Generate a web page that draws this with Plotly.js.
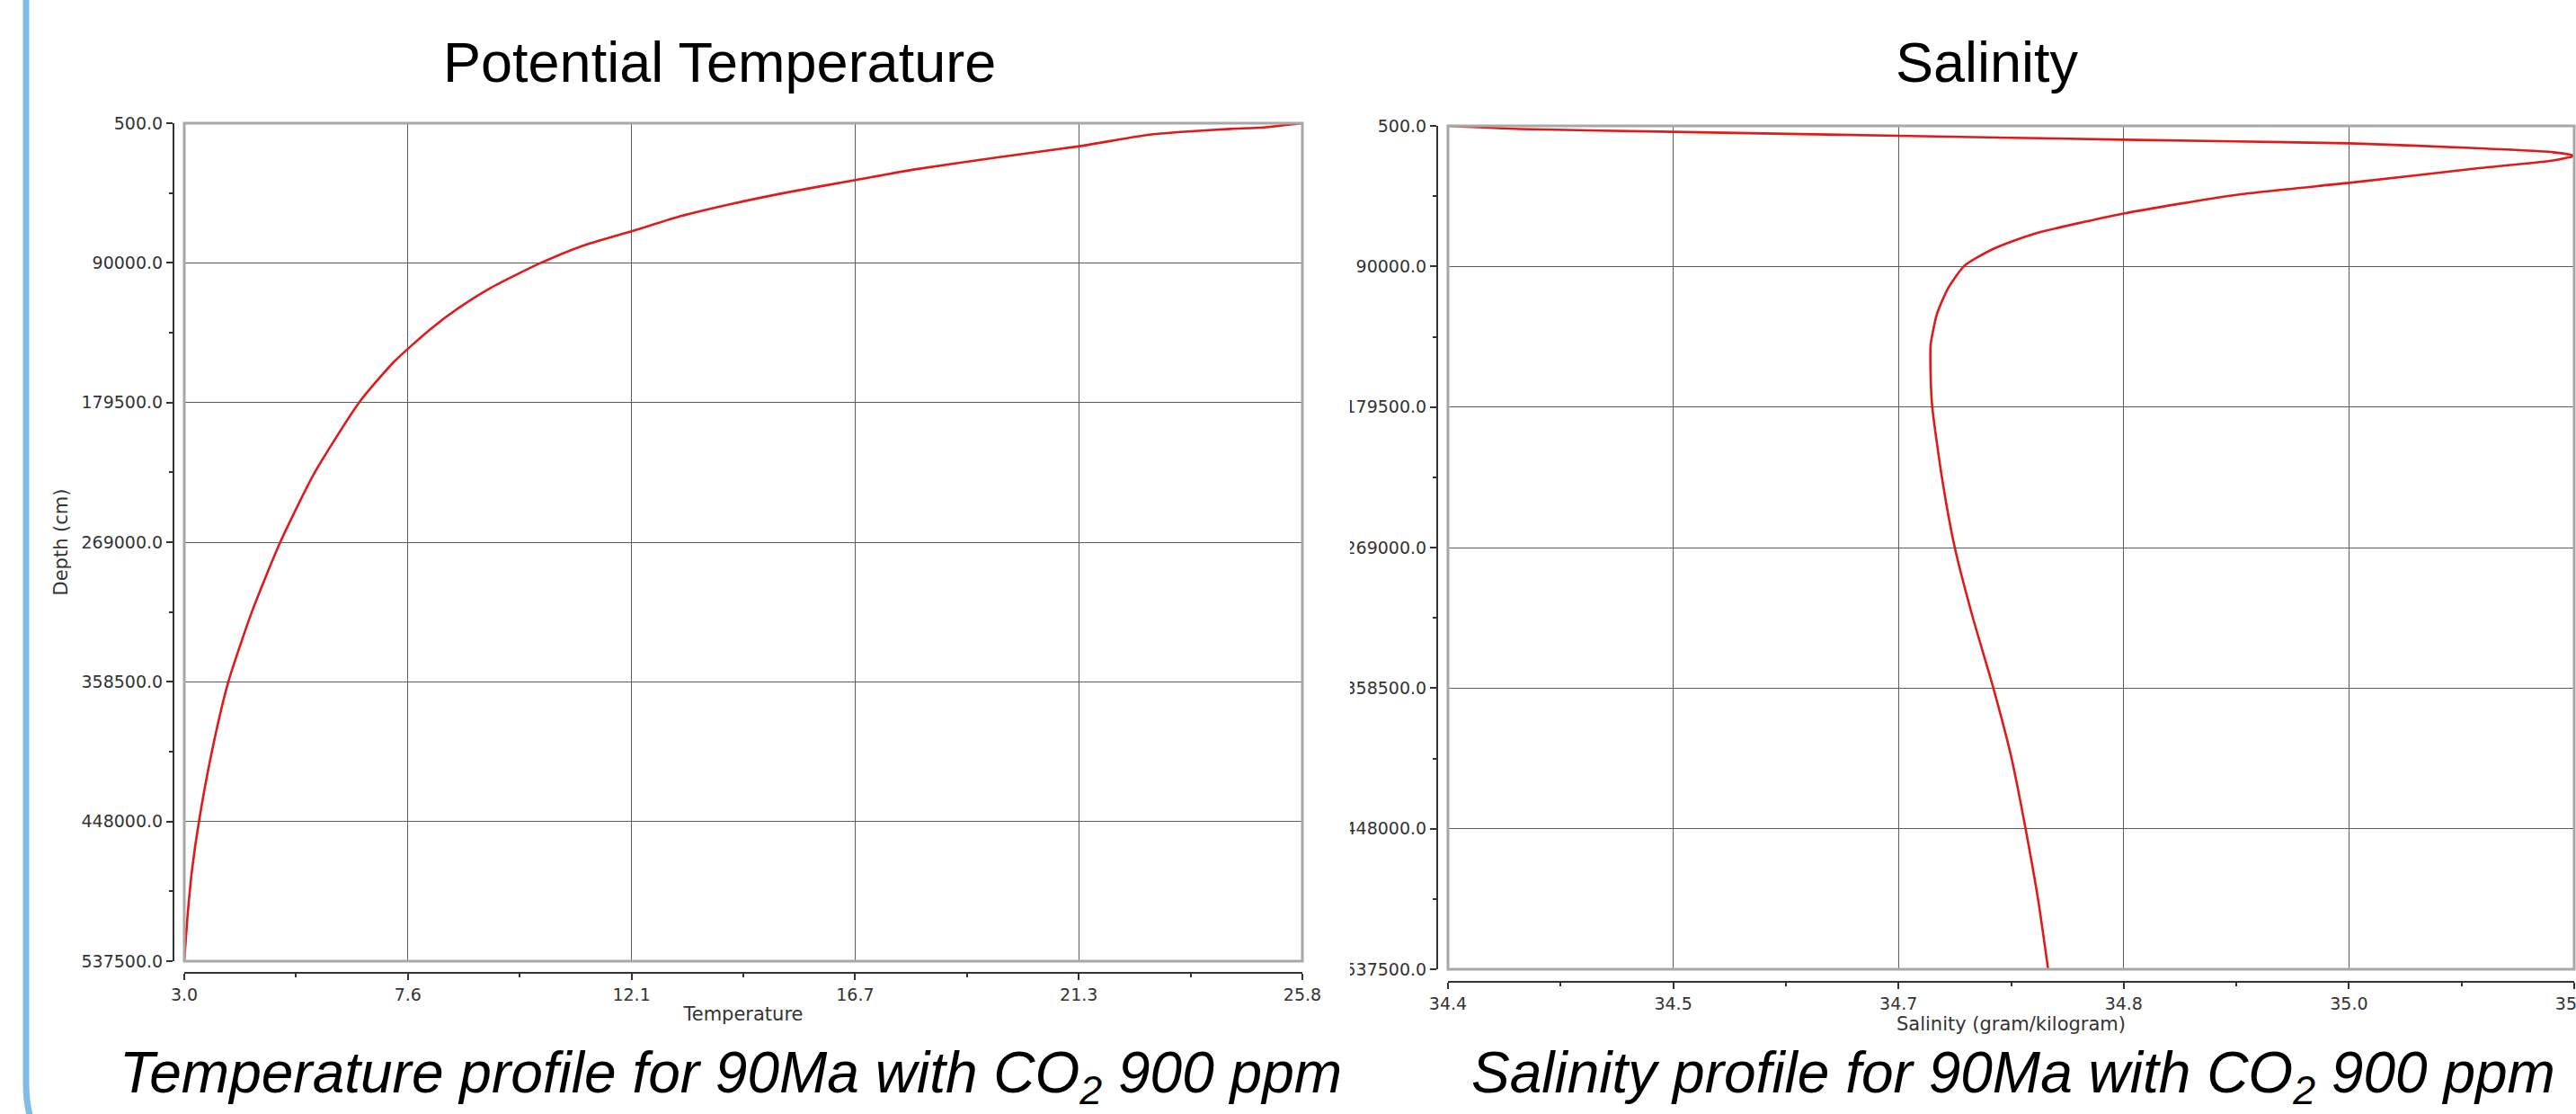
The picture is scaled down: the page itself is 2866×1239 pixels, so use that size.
<!DOCTYPE html>
<html>
<head>
<meta charset="utf-8">
<script src="https://cdn.plot.ly/plotly-3.0.1.min.js"></script>
<style>html,body{margin:0;padding:0;background:#fff;} #chart{width:2866px;height:1239px;}</style>
</head>
<body>
<div id="chart"></div>
<script>
// ---------- data ----------
const tempDepth = [500, 3200, 4150, 6100, 8000, 15100, 22400, 30100, 36800, 44500, 52200, 59900, 69500, 79100, 90200, 106000, 119000, 132400, 153200, 179500, 224600, 269000, 313700, 358500, 403800, 448000, 478700, 507600, 537500];
const temperature = [25.83, 25.04, 24.36, 23.35, 22.67, 21.31, 19.61, 17.92, 16.73, 15.37, 14.18, 13.16, 12.16, 11.13, 10.27, 9.26, 8.60, 8.03, 7.29, 6.57, 5.66, 4.96, 4.38, 3.90, 3.56, 3.30, 3.16, 3.07, 3.00];

const salDepth = [500, 2500, 4300, 6800, 9300, 11600, 14800, 17300, 19600, 22500, 27300, 36800, 44400, 56300, 69300, 78800, 89600, 103600, 120000, 140000, 160000, 179500, 224300, 269000, 312800, 358500, 401800, 448000, 494500, 537500];
const salinity = [34.400, 34.445, 34.540, 34.680, 34.820, 34.960, 35.042, 35.087, 35.100, 35.087, 35.042, 34.960, 34.890, 34.820, 34.764, 34.739, 34.721, 34.711, 34.704, 34.700, 34.700, 34.701, 34.707, 34.715, 34.726, 34.739, 34.750, 34.759, 34.767, 34.773];

const depthTickVals = [500, 90000, 179500, 269000, 358500, 448000, 537500];
const depthTickText = ["500.0", "90000.0", "179500.0", "269000.0", "358500.0", "448000.0", "537500.0"];
const tempTickVals = [3.0, 7.566, 12.132, 16.698, 21.264, 25.83];
const tempTickText = ["3.0", "7.6", "12.1", "16.7", "21.3", "25.8"];
const salTickVals = [34.4, 34.54, 34.68, 34.82, 34.96, 35.1];
const salTickText = ["34.4", "34.5", "34.7", "34.8", "35.0", "35.1"];

const titleLeft = "Potential Temperature";
const titleRight = "Salinity";
const captionLeft = "Temperature profile for 90Ma with CO<sub>2</sub> 900 ppm";
const captionRight = "Salinity profile for 90Ma with CO<sub>2</sub> 900 ppm";

// ---------- layout helpers ----------
const W = 2866, H = 1239;
const fx = p => p / W;
const fy = p => 1 - p / H;
const mids = v => v.slice(0, -1).map((a, i) => (a + v[i + 1]) / 2);

const tickFont = {family: "DejaVu Sans, sans-serif", size: 19, color: "#333"};
const axTitleFont = {family: "DejaVu Sans, sans-serif", size: 21, color: "#333"};
const sans = "Liberation Sans, Arial, sans-serif";

function axisCommon(vals, text) {
  return {
    tickmode: "array", tickvals: vals, ticktext: text,
    showline: true, linecolor: "#333", linewidth: 2,
    ticks: "outside", ticklen: 7, tickwidth: 2, tickcolor: "#333",
    minor: {tickvals: mids(vals), ticks: "outside", ticklen: 4, tickwidth: 2, tickcolor: "#333", showgrid: false},
    showgrid: true, gridcolor: "#5c5c5c", gridwidth: 1,
    zeroline: false, tickfont: tickFont, automargin: false, fixedrange: true,
    ticklabeloverflow: "allow"
  };
}

const lineStyle = {color: "#e01a1a", width: 2.6, shape: "spline", smoothing: 0.6};

const traces = [
  {x: temperature, y: tempDepth, xaxis: "x", yaxis: "y", mode: "lines", line: lineStyle, showlegend: false, hoverinfo: "skip"},
  {x: salinity, y: salDepth, xaxis: "x2", yaxis: "y2", mode: "lines", line: lineStyle, showlegend: false, hoverinfo: "skip"}
];

const layout = {
  width: W, height: H,
  margin: {l: 0, r: 0, t: 0, b: 0, pad: 0},
  paper_bgcolor: "#ffffff", plot_bgcolor: "#ffffff",
  showlegend: false,
  xaxis: Object.assign(axisCommon(tempTickVals, tempTickText), {
    domain: [fx(205), fx(1449)], range: [3.0, 25.83],
    anchor: "free", position: fy(1082),
    title: {text: "Temperature", font: axTitleFont, standoff: 4}
  }),
  yaxis: Object.assign(axisCommon(depthTickVals, depthTickText), {
    domain: [fy(1069), fy(137)], range: [537500, 500],
    anchor: "free", position: fx(193), side: "left",
    title: {text: "Depth (cm)", font: axTitleFont, standoff: 8}
  }),
  xaxis2: Object.assign(axisCommon(salTickVals, salTickText), {
    domain: [fx(1611), fx(2864)], range: [34.4, 35.1],
    anchor: "free", position: fy(1092),
    title: {text: "Salinity (gram/kilogram)", font: axTitleFont, standoff: 4}
  }),
  yaxis2: Object.assign(axisCommon(depthTickVals, depthTickText), {
    domain: [fy(1078), fy(140)], range: [537500, 500],
    anchor: "free", position: fx(1599), side: "left"
  }),
  shapes: [
    // plot frames
    {type: "rect", xref: "x domain", yref: "y domain", x0: 0, x1: 1, y0: 0, y1: 1,
     line: {color: "#a8a8a8", width: 3}, fillcolor: "rgba(0,0,0,0)", layer: "above"},
    {type: "rect", xref: "x2 domain", yref: "y2 domain", x0: 0, x1: 1, y0: 0, y1: 1,
     line: {color: "#a8a8a8", width: 3}, fillcolor: "rgba(0,0,0,0)", layer: "above"},
    // the right chart image is cropped on its left side
    {type: "rect", xref: "paper", yref: "paper", x0: fx(1453), x1: fx(1502), y0: fy(1088), y1: fy(115),
     line: {width: 0}, fillcolor: "#ffffff", layer: "above"},
    // slide frame (light blue rounded border)
    {type: "path", xref: "paper", yref: "paper", layer: "above",
     path: "M " + fx(29) + " " + fy(-10) + " L " + fx(29) + " " + fy(1205) +
           " Q " + fx(29) + " " + fy(1300) + " " + fx(124) + " " + fy(1300),
     line: {color: "#7fbde9", width: 7}}
  ],
  annotations: [
    {text: titleLeft, x: fx(800), y: fy(69), xref: "paper", yref: "paper", xanchor: "center", yanchor: "middle",
     showarrow: false, font: {family: sans, size: 63, color: "#000"}},
    {text: titleRight, x: fx(2211), y: fy(69), xref: "paper", yref: "paper", xanchor: "center", yanchor: "middle",
     showarrow: false, font: {family: sans, size: 63, color: "#000"}},
    {text: "<i>" + captionLeft + "</i>", x: fx(813), y: fy(1197), xref: "paper", yref: "paper", xanchor: "center", yanchor: "middle",
     showarrow: false, font: {family: sans, size: 64, color: "#000", style: "italic"}},
    {text: "<i>" + captionRight + "</i>", x: fx(2240), y: fy(1197), xref: "paper", yref: "paper", xanchor: "center", yanchor: "middle",
     showarrow: false, font: {family: sans, size: 64, color: "#000", style: "italic"}}
  ]
};

Plotly.newPlot("chart", traces, layout, {displayModeBar: false, staticPlot: true});
</script>
</body>
</html>
